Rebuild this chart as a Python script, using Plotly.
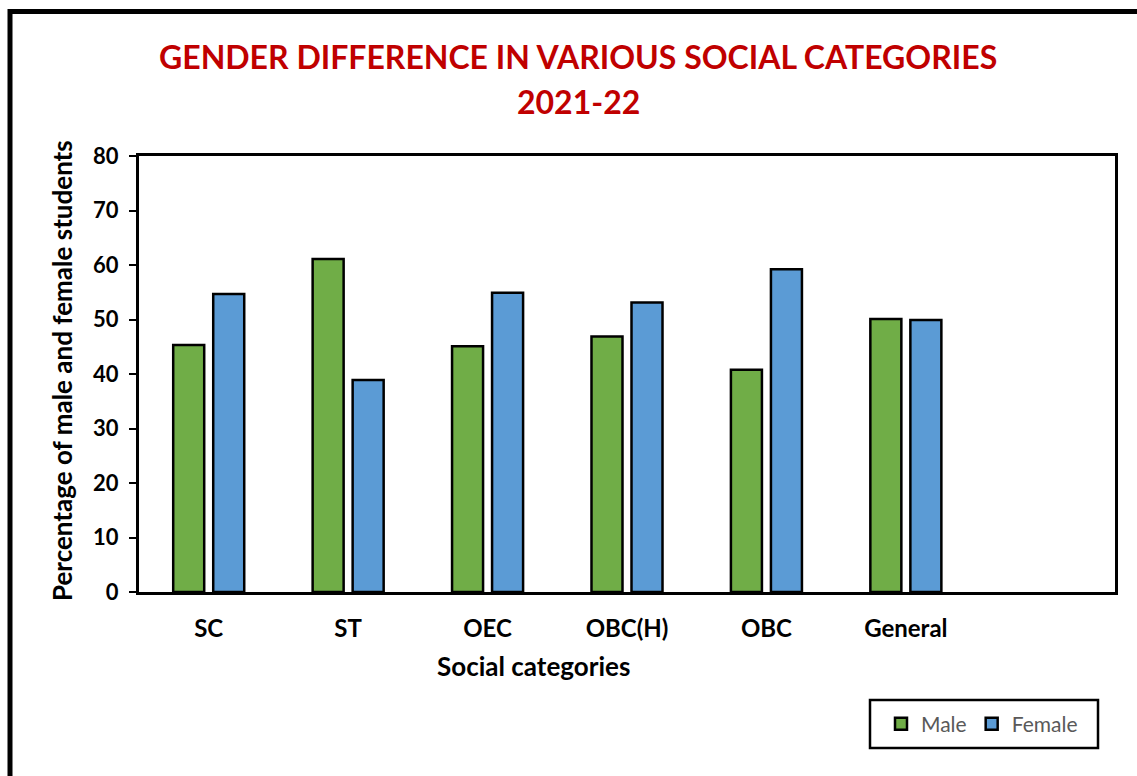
import plotly.graph_objects as go

categories = ["SC", "ST", "OEC", "OBC(H)", "OBC", "General"]
male = [45.3, 61.1, 45.1, 46.9, 40.8, 50.1]
female = [54.7, 38.9, 54.9, 53.1, 59.2, 49.9]
y_ticks = [0, 10, 20, 30, 40, 50, 60, 70, 80]

W, H = 1137, 776
L, R, T, B = 139, 1115, 156, 592
FONT = "Lato"

def px(x):
    return (x - L) / (R - L)

def py(y):
    return (B - y) / (B - T)

fig = go.Figure()
fig.add_trace(go.Bar(name="Male", x=categories, y=male,
                     marker=dict(color="#70AD47", line=dict(color="black", width=2.5))))
fig.add_trace(go.Bar(name="Female", x=categories, y=female,
                     marker=dict(color="#5B9BD5", line=dict(color="black", width=2.5))))

fig.update_layout(
    width=W, height=H,
    margin=dict(l=L, r=W - R, t=T, b=H - B, pad=0),
    paper_bgcolor="white", plot_bgcolor="white",
    barmode="group", bargap=0.426, bargroupgap=0.225,
    font=dict(family=FONT, color="black"),
    showlegend=True,
    legend=dict(orientation="h", x=px(881), y=py(724), xanchor="left", yanchor="middle",
                borderwidth=0, bgcolor="rgba(0,0,0,0)",
                font=dict(size=21, color="#595959", family=FONT),
                itemwidth=30),
)

fig.update_xaxes(
    type="category", categoryorder="array", categoryarray=categories,
    range=[-0.5, 6.5],
    showline=True, linecolor="black", linewidth=3, mirror=True,
    ticks="", showgrid=False, zeroline=False,
    tickfont=dict(size=24, family=FONT, color="black", weight="bold"),
    ticklabelstandoff=13,
)
fig.update_yaxes(
    range=[0, 80], tickvals=y_ticks,
    showline=True, linecolor="black", linewidth=3, mirror=True,
    ticks="outside", ticklen=7, tickwidth=2, tickcolor="black",
    showgrid=False, zeroline=False,
    tickfont=dict(size=22, family=FONT, color="black", weight="bold"),
    ticklabelstandoff=6,
)

title_font = dict(size=32, family=FONT, color="#C00000", weight="bold")
fig.add_annotation(text="GENDER DIFFERENCE IN VARIOUS SOCIAL CATEGORIES", xref="paper", yref="paper",
                   x=px(578), y=py(57), xanchor="center", yanchor="middle", showarrow=False, font=title_font)
fig.add_annotation(text="2021-22", xref="paper", yref="paper",
                   x=px(578), y=py(101), xanchor="center", yanchor="middle", showarrow=False, font=title_font)
fig.add_annotation(text="Percentage of male and female students", xref="paper", yref="paper",
                   x=px(62), y=py(371), xanchor="center", yanchor="middle", textangle=-90, showarrow=False,
                   font=dict(size=26, family=FONT, color="black", weight="bold"))
fig.add_annotation(text="Social categories", xref="paper", yref="paper",
                   x=px(533), y=py(666), xanchor="center", yanchor="middle", showarrow=False,
                   font=dict(size=26, family=FONT, color="black", weight="bold"))

# legend frame
fig.add_shape(type="rect", xref="paper", yref="paper",
              x0=px(870), x1=px(1098), y0=py(748), y1=py(700),
              line=dict(color="black", width=2.5), fillcolor="rgba(0,0,0,0)")
# outer chart border
fig.add_shape(type="rect", xref="paper", yref="paper",
              x0=px(10), x1=px(1150), y0=py(800), y1=py(11.5),
              line=dict(color="black", width=5), fillcolor="rgba(0,0,0,0)", layer="above")

fig.write_html("out.html", config={"displayModeBar": False},
               post_script="document.body.style.margin='0';document.body.style.overflow='hidden';")
